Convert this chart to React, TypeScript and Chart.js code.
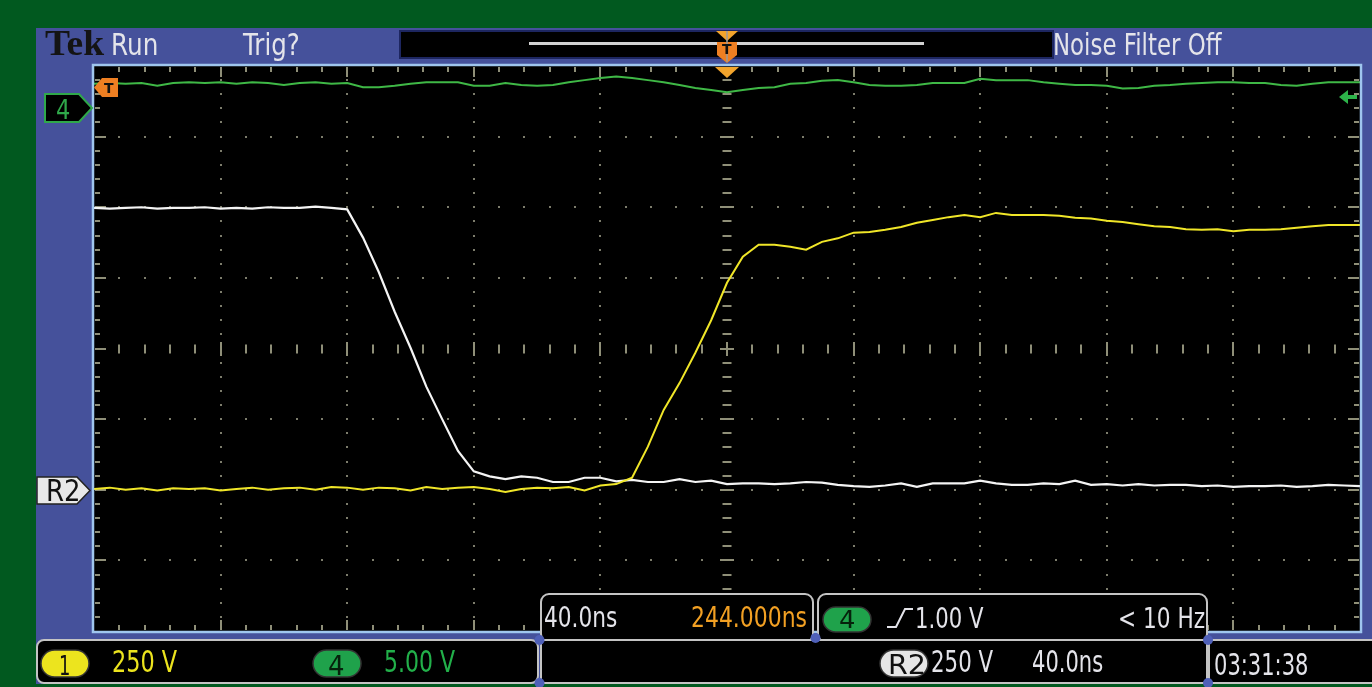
import React, { useEffect, useRef } from 'react';
import { Chart, registerables } from 'chart.js';

Chart.register(...registerables);

// ---- Data (time in ns relative to trigger, amplitude in screen divisions, 0 = centre line) ----
const timeNs = [
  -200, -195, -190, -185, -180, -175, -170, -165, -160, -155,
  -150, -145, -140, -135, -130, -125, -120, -115, -110, -105,
  -100, -95, -90, -85, -80, -75, -70, -65, -60, -55,
  -50, -45, -40, -35, -30, -25, -20, -15, -10, -5,
  0, 5, 10, 15, 20, 25, 30, 35, 40, 45,
  50, 55, 60, 65, 70, 75, 80, 85, 90, 95,
  100, 105, 110, 115, 120, 125, 130, 135, 140, 145,
  150, 155, 160, 165, 170, 175, 180, 185, 190, 195,
  200,
];

// Channel 1 (yellow, 250 V/div)
const ch1Div = [
  -1.99, -1.97, -2.0, -1.98, -2.01, -1.98, -1.99, -1.98, -2.01, -1.99,
  -1.97, -2.0, -1.98, -1.97, -2.0, -1.96, -1.97, -2.0, -1.97, -1.98,
  -2.01, -1.96, -1.99, -1.97, -1.96, -1.99, -2.03, -1.99, -1.97, -1.98,
  -1.96, -2.01, -1.94, -1.92, -1.83, -1.39, -0.87, -0.49, -0.06, 0.4,
  0.93, 1.3, 1.47, 1.47, 1.44, 1.4, 1.51, 1.56, 1.64, 1.65,
  1.68, 1.72, 1.78, 1.82, 1.86, 1.89, 1.86, 1.92, 1.89, 1.89,
  1.89, 1.88, 1.85, 1.84, 1.81, 1.79, 1.76, 1.73, 1.72, 1.69,
  1.68, 1.69, 1.66, 1.68, 1.68, 1.69, 1.71, 1.73, 1.75, 1.75,
  1.75,
];

// Reference R2 (white, 250 V/div)
const r2Div = [
  1.99, 1.98, 1.99, 2.0, 1.98, 1.99, 1.99, 2.0, 1.98, 1.99,
  1.98, 2.0, 1.99, 1.99, 2.01, 1.99, 1.97, 1.57, 1.08, 0.52,
  0.01, -0.54, -1.0, -1.45, -1.74, -1.81, -1.85, -1.81, -1.83, -1.89,
  -1.89, -1.83, -1.83, -1.88, -1.86, -1.89, -1.89, -1.85, -1.89, -1.87,
  -1.92, -1.91, -1.91, -1.92, -1.91, -1.89, -1.9, -1.93, -1.95, -1.96,
  -1.94, -1.91, -1.96, -1.91, -1.91, -1.91, -1.87, -1.91, -1.93, -1.93,
  -1.91, -1.92, -1.87, -1.93, -1.92, -1.94, -1.92, -1.94, -1.93, -1.93,
  -1.95, -1.94, -1.96, -1.95, -1.95, -1.94, -1.96, -1.95, -1.93, -1.94,
  -1.95,
];

// Channel 4 (green, 5.00 V/div)
const ch4Div = [
  3.75, 3.76, 3.75, 3.76, 3.72, 3.76, 3.77, 3.76, 3.77, 3.75,
  3.77, 3.76, 3.73, 3.76, 3.77, 3.75, 3.76, 3.7, 3.7, 3.72,
  3.75, 3.77, 3.77, 3.77, 3.72, 3.72, 3.76, 3.73, 3.72, 3.73,
  3.77, 3.8, 3.83, 3.85, 3.83, 3.8, 3.77, 3.73, 3.69, 3.66,
  3.63, 3.66, 3.69, 3.7, 3.75, 3.76, 3.79, 3.8, 3.77, 3.73,
  3.72, 3.72, 3.73, 3.76, 3.76, 3.76, 3.82, 3.8, 3.8, 3.8,
  3.77, 3.75, 3.73, 3.73, 3.72, 3.68, 3.69, 3.72, 3.73, 3.75,
  3.76, 3.77, 3.77, 3.76, 3.76, 3.73, 3.72, 3.75, 3.77, 3.77,
  3.77,
];

// Graticule: 10 x 8 divisions, 5 minor per division
const X_MIN = -200;
const X_MAX = 200;
const NS_PER_DIV = 40;
const Y_MIN = -4;
const Y_MAX = 4;
const MINOR_PER_DIV = 5;

const W = 1372;
const H = 687;
const GREEN_BG = '#01591f';
const FRAME = '#45519b';
const PLOT_BORDER = '#9fc6ee';
const DOT = '#7d7d6c';
const DASH = '#8f8f78';
const UI_WHITE = '#e4e4ea';
const YELLOW = '#ece41e';
const GREEN = '#27a84a';
const ORANGE = '#ee7f22';
const ORANGE_L = '#f2a42c';

function roundRect(ctx: CanvasRenderingContext2D, x: number, y: number, w: number, h: number, r: number) {
  ctx.beginPath();
  ctx.moveTo(x + r, y);
  ctx.lineTo(x + w - r, y);
  ctx.arcTo(x + w, y, x + w, y + r, r);
  ctx.lineTo(x + w, y + h - r);
  ctx.arcTo(x + w, y + h, x + w - r, y + h, r);
  ctx.lineTo(x + r, y + h);
  ctx.arcTo(x, y + h, x, y + h - r, r);
  ctx.lineTo(x, y + r);
  ctx.arcTo(x, y, x + r, y, r);
  ctx.closePath();
}

function box(ctx: CanvasRenderingContext2D, x: number, y: number, w: number, h: number, r: number) {
  roundRect(ctx, x, y, w, h, r);
  ctx.fillStyle = '#000';
  ctx.fill();
  ctx.strokeStyle = '#c4c4c4';
  ctx.lineWidth = 2;
  ctx.stroke();
}

function pill(ctx: CanvasRenderingContext2D, x: number, y: number, w: number, h: number, fill: string) {
  roundRect(ctx, x, y, w, h, h / 2);
  ctx.fillStyle = fill;
  ctx.fill();
  ctx.strokeStyle = '#333';
  ctx.lineWidth = 1.5;
  ctx.stroke();
}

function poly(ctx: CanvasRenderingContext2D, pts: number[][], fill?: string, stroke?: string, lw = 2) {
  ctx.beginPath();
  pts.forEach(([x, y], i) => (i === 0 ? ctx.moveTo(x, y) : ctx.lineTo(x, y)));
  ctx.closePath();
  if (fill) {
    ctx.fillStyle = fill;
    ctx.fill();
  }
  if (stroke) {
    ctx.strokeStyle = stroke;
    ctx.lineWidth = lw;
    ctx.stroke();
  }
}

const scopePlugin = {
  id: 'scope',
  beforeDraw(chart: any) {
    const { ctx, chartArea: a } = chart;
    ctx.save();
    ctx.fillStyle = GREEN_BG;
    ctx.fillRect(0, 0, W, H);
    ctx.fillStyle = FRAME;
    ctx.fillRect(36, 28, W - 36, 656);
    ctx.fillStyle = '#000';
    ctx.fillRect(a.left, a.top, a.right - a.left, a.bottom - a.top);

    // record view box
    ctx.fillStyle = '#000';
    ctx.fillRect(400, 31, 653, 27);
    ctx.strokeStyle = '#1d2660';
    ctx.lineWidth = 2;
    ctx.strokeRect(400, 31, 653, 27);
    ctx.strokeStyle = '#d2d2d2';
    ctx.lineWidth = 3;
    ctx.beginPath();
    ctx.moveTo(529, 43.5);
    ctx.lineTo(924, 43.5);
    ctx.stroke();

    // graticule
    const xs = chart.scales.x;
    const ys = chart.scales.y;
    const nx = ((X_MAX - X_MIN) / NS_PER_DIV) * MINOR_PER_DIV / 2;
    const ny = ((Y_MAX - Y_MIN) * MINOR_PER_DIV) / 2;
    const xMinor = NS_PER_DIV / MINOR_PER_DIV;
    const yMinor = 1 / MINOR_PER_DIV;
    ctx.fillStyle = DOT;
    for (let i = -4; i <= 4; i++) {
      if (i === 0) continue;
      const px = Math.round(xs.getPixelForValue(i * NS_PER_DIV));
      for (let k = -ny + 1; k < ny; k++) {
        const py = Math.round(ys.getPixelForValue(k * yMinor));
        ctx.fillRect(px - 1, py - 1, 2, 2);
      }
    }
    for (let j = -3; j <= 3; j++) {
      if (j === 0) continue;
      const py = Math.round(ys.getPixelForValue(j));
      for (let k = -nx + 1; k < nx; k++) {
        const px = Math.round(xs.getPixelForValue(k * xMinor));
        ctx.fillRect(px - 1, py - 1, 2, 2);
      }
    }
    ctx.fillStyle = DASH;
    const cx = Math.round(xs.getPixelForValue(0));
    const cy = Math.round(ys.getPixelForValue(0));
    for (let k = -ny + 1; k < ny; k++) {
      const py = Math.round(ys.getPixelForValue(k * yMinor));
      const w = k % MINOR_PER_DIV === 0 ? 14 : 9;
      ctx.fillRect(cx - w / 2, py - 1, w, 2);
      const lw = k % MINOR_PER_DIV === 0 ? 11 : 5;
      ctx.fillRect(a.left + 1, py - 1, lw, 2);
      ctx.fillRect(a.right - 1 - lw, py - 1, lw, 2);
    }
    for (let k = -nx + 1; k < nx; k++) {
      const px = Math.round(xs.getPixelForValue(k * xMinor));
      const h = k % MINOR_PER_DIV === 0 ? 14 : 9;
      ctx.fillRect(px - 1, cy - h / 2, 2, h);
      const th = k % MINOR_PER_DIV === 0 ? 10 : 5;
      ctx.fillRect(px - 1, a.top + 1, 2, th);
      ctx.fillRect(px - 1, a.bottom - 1 - th, 2, th);
    }
    ctx.restore();
  },
  afterDatasetsDraw(chart: any) {
    const { ctx, chartArea: a } = chart;
    ctx.save();
    // plot border
    ctx.strokeStyle = PLOT_BORDER;
    ctx.lineWidth = 2.5;
    ctx.strokeRect(a.left - 1, a.top - 1, a.right - a.left + 2, a.bottom - a.top + 2);

    // measurement / trigger readouts overlaying the graticule
    box(ctx, 541, 594, 272, 48, 8);
    box(ctx, 818, 594, 389, 48, 8);
    // bottom status boxes
    box(ctx, 37, 640, 501, 43, 7);
    box(ctx, 541, 640, 666, 43, 4);
    box(ctx, 1209, 640, 180, 43, 4);
    ctx.fillStyle = '#4f60b8';
    [[539.5, 640], [539.5, 683], [1208, 640], [1208, 683], [815.5, 638]].forEach(([x, y]) => {
      ctx.beginPath();
      ctx.arc(x, y, 5, 0, Math.PI * 2);
      ctx.fill();
    });

    // pills
    pill(ctx, 41, 650, 48, 27, YELLOW);
    pill(ctx, 313, 650, 48, 27, '#1fa24b');
    pill(ctx, 823, 607, 48, 25, '#1fa24b');
    pill(ctx, 880, 650, 48, 27, '#e6e6e6');

    // rising-edge symbol
    ctx.strokeStyle = UI_WHITE;
    ctx.lineWidth = 2;
    ctx.beginPath();
    ctx.moveTo(887, 627);
    ctx.lineTo(896, 627);
    ctx.lineTo(905, 609);
    ctx.lineTo(913, 609);
    ctx.stroke();

    // channel 4 marker
    poly(ctx, [[45, 94], [79, 94], [92, 108], [79, 122], [45, 122]], '#000', '#2fa84a', 2);
    // R2 marker
    poly(ctx, [[37, 477], [77, 477], [90, 490.5], [77, 504], [37, 504]], '#e8e8e8', '#222', 1.5);
    // trigger level marker (left)
    poly(ctx, [[94, 87.5], [102, 78], [118, 78], [118, 97], [102, 97]], ORANGE);
    // trigger level arrow (right)
    poly(ctx, [[1339, 97], [1348, 90], [1348, 104]], '#2db34a');
    ctx.fillStyle = '#2db34a';
    ctx.fillRect(1347, 95, 10, 4);

    // trigger position marker (top)
    poly(ctx, [[716, 31], [738, 31], [727, 41]], ORANGE_L);
    poly(ctx, [[717, 42], [737, 42], [737, 55], [727, 63], [717, 55]], ORANGE);
    ctx.strokeStyle = '#9a9a9a';
    ctx.lineWidth = 1.5;
    ctx.beginPath();
    ctx.moveTo(727, 31);
    ctx.lineTo(727, 62);
    ctx.stroke();
    poly(ctx, [[715, 67], [739, 67], [727, 78]], ORANGE_L);
    ctx.restore();
  },
};

let mctx: CanvasRenderingContext2D | null = null;

type LabelProps = {
  t: string;
  x: number;
  w: number;
  base: number;
  size: number;
  color: string;
  family?: string;
  weight?: string;
};

function Label({ t, x, w, base, size, color, family = 'DejaVu Sans', weight = 'normal' }: LabelProps) {
  if (!mctx) mctx = document.createElement('canvas').getContext('2d');
  const fontStr = `${weight} ${size}px "${family}"`;
  mctx!.font = fontStr;
  const m = mctx!.measureText(t);
  const inkW = m.actualBoundingBoxLeft + m.actualBoundingBoxRight;
  const sx = inkW > 0 ? w / inkW : 1;
  const asc = m.fontBoundingBoxAscent;
  const desc = m.fontBoundingBoxDescent;
  const top = base - (asc + (size - asc - desc) / 2);
  const left = x + sx * m.actualBoundingBoxLeft;
  return (
    <span
      style={{
        position: 'absolute',
        left,
        top,
        fontFamily: `"${family}"`,
        fontSize: `${size}px`,
        fontWeight: weight as any,
        lineHeight: `${size}px`,
        color,
        whiteSpace: 'pre',
        transform: `scaleX(${sx})`,
        transformOrigin: '0 0',
        pointerEvents: 'none',
      }}
    >
      {t}
    </span>
  );
}

export default function App() {
  const ref = useRef<HTMLCanvasElement>(null);

  useEffect(() => {
    if (!ref.current) return;
    const toPts = (vals: number[]) => timeNs.map((t, i) => ({ x: t, y: vals[i] }));
    const chart = new Chart(ref.current, {
      type: 'line',
      data: {
        datasets: [
          { label: 'CH1', data: toPts(ch1Div), borderColor: '#f0e628', borderWidth: 2, pointRadius: 0, tension: 0 },
          { label: 'R2', data: toPts(r2Div), borderColor: '#f4f4f4', borderWidth: 2.2, pointRadius: 0, tension: 0 },
          { label: 'CH4', data: toPts(ch4Div), borderColor: '#3fb846', borderWidth: 2, pointRadius: 0, tension: 0 },
        ],
      },
      options: {
        responsive: false,
        animation: false,
        events: [],
        layout: { padding: { left: 94, top: 66, right: 12, bottom: 56 } },
        scales: {
          x: { type: 'linear', min: X_MIN, max: X_MAX, display: false },
          y: { type: 'linear', min: Y_MIN, max: Y_MAX, display: false },
        },
        plugins: { legend: { display: false }, tooltip: { enabled: false } },
      },
      plugins: [scopePlugin],
    });
    return () => chart.destroy();
  }, []);

  return (
    <div style={{ position: 'fixed', left: 0, top: 0, width: W, height: H, overflow: 'hidden', background: GREEN_BG }}>
      <canvas ref={ref} width={W} height={H} style={{ position: 'absolute', left: 0, top: 0 }} />
      <Label t="Tek" x={45} w={59} base={55} size={36} color="#141414" family="Liberation Serif" weight="bold" />
      <Label t="Run" x={113} w={44} base={55} size={30} color={UI_WHITE} />
      <Label t="Trig?" x={242} w={56} base={55} size={30} color={UI_WHITE} />
      <Label t="Noise Filter Off" x={1055} w={168} base={55} size={30} color={UI_WHITE} />
      <Label t="T" x={722} w={10} base={54} size={14} color="#111" weight="bold" />
      <Label t="T" x={104} w={10} base={93} size={14} color="#111" weight="bold" />
      <Label t="4" x={57} w={13} base={119} size={26} color="#2fa84a" />
      <Label t="R2" x={48} w={31} base={501} size={30} color="#111" />

      <Label t="40.0ns" x={545} w={72} base={627} size={28} color={UI_WHITE} />
      <Label t="244.000ns" x={693} w={114} base={627} size={28} color="#f2a023" />
      <Label t="4" x={840} w={14} base={628} size={24} color="#06220c" />
      <Label t="1.00 V" x={917} w={66} base={628} size={28} color={UI_WHITE} />
      <Label t="< 10 Hz" x={1120} w={85} base={628} size={28} color={UI_WHITE} />

      <Label t="1" x={60} w={9} base={675} size={26} color="#111" />
      <Label t="250 V" x={113} w={64} base={672} size={30} color={YELLOW} />
      <Label t="4" x={329} w={15} base={675} size={26} color="#06220c" />
      <Label t="5.00 V" x={385} w={70} base={672} size={30} color="#22b04a" />
      <Label t="R2" x={890} w={33} base={674} size={26} color="#111" />
      <Label t="250 V" x={932} w={61} base={672} size={30} color={UI_WHITE} />
      <Label t="40.0ns" x={1033} w={70} base={672} size={30} color={UI_WHITE} />
      <Label t="03:31:38" x={1215} w={93} base={675} size={30} color={UI_WHITE} />
    </div>
  );
}
